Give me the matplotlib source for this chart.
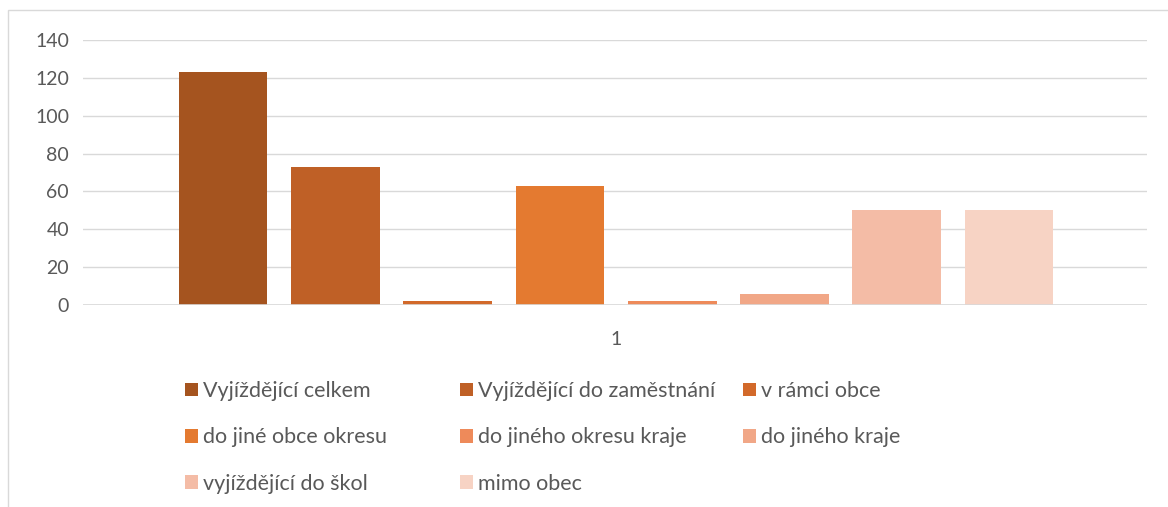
import matplotlib
matplotlib.use("Agg")
import matplotlib.pyplot as plt
from matplotlib.patches import Rectangle, Patch
import numpy as np

plt.rcParams['font.family'] = ['Lato', 'DejaVu Sans']

categories = ["1"]
series_names = [
    "Vyjíždějící celkem",
    "Vyjíždějící do zaměstnání",
    "v rámci obce",
    "do jiné obce okresu",
    "do jiného okresu kraje",
    "do jiného kraje",
    "vyjíždějící do škol",
    "mimo obec",
]
values = [123, 73, 2, 63, 2, 6, 50, 50]
colors = ["#A5541F", "#BF6026", "#D2692A", "#E47A30",
          "#EE8A5A", "#F1A787", "#F4BCA6", "#F7D3C4"]
yticks = [0, 20, 40, 60, 80, 100, 120, 140]

fig = plt.figure(figsize=(11.68, 5.07), dpi=100)
# light chart-area border
fig.patches.append(Rectangle((8 / 1168, -0.1), 1.2, (507 - 10) / 507 + 0.1,
                             transform=fig.transFigure, fill=False,
                             edgecolor="#D9D9D9", lw=1))

ax = fig.add_axes([83 / 1168, 202 / 507, 1064 / 1168, 265 / 507])
x = np.arange(len(values))
bars = ax.bar(x, values, width=0.79, color=colors, zorder=3)

ax.set_xlim(-1.247, 8.228)
ax.set_ylim(0, 140)
ax.set_yticks(yticks)
ax.set_xticks([np.mean(x)])
ax.set_xticklabels(categories)
ax.grid(axis="y", color="#D9D9D9", lw=1, zorder=0)
for s in ["top", "right", "left", "bottom"]:
    ax.spines[s].set_visible(False)
ax.axhline(0, color="#D9D9D9", lw=1.2, zorder=4)
ax.tick_params(axis="both", length=0, labelsize=14, colors="#595959", pad=10)
ax.tick_params(axis="x", pad=19)

# legend laid out like Excel: 3 equal columns, row-major order
col_x = [185 / 1168, 460 / 1168, 743 / 1168]
for c in range(3):
    idx = [i for i in range(len(series_names)) if i % 3 == c]
    handles = [Patch(facecolor=colors[i]) for i in idx]
    labels = [series_names[i] for i in idx]
    fig.legend(handles, labels, loc="upper left",
               bbox_to_anchor=(col_x[c], 1 - 381 / 507), frameon=False,
               fontsize=15.5, labelcolor="#595959", handlelength=0.6,
               handleheight=0.6, handletextpad=0.25, labelspacing=1.22,
               borderaxespad=0, borderpad=0)

fig.savefig("out.png", dpi=100)
